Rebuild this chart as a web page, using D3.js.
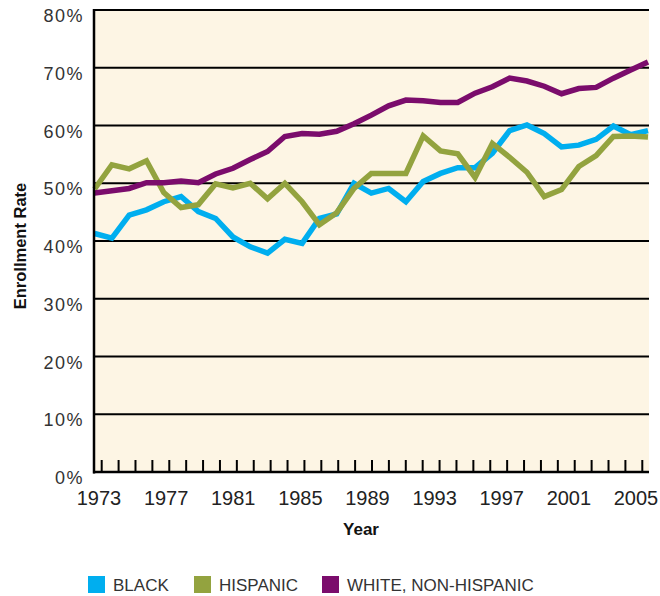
<!DOCTYPE html>
<html><head><meta charset="utf-8">
<script src="https://cdn.jsdelivr.net/npm/d3@7"></script>
<style>
body{margin:0;background:#fff;}
svg{display:block;}
</style></head>
<body>
<svg id="chart" width="660" height="596"></svg>
<script>
const years = d3.range(1973, 2006);
const black = [41.3,40.5,44.5,45.4,46.8,47.7,45.1,43.9,40.7,39.0,37.9,40.3,39.6,43.9,44.7,50.0,48.3,49.1,46.8,50.3,51.7,52.7,52.7,55.2,59.1,60.1,58.6,56.3,56.6,57.6,59.9,58.4,59.1];
const hispanic = [49.0,53.2,52.5,53.9,48.4,45.8,46.3,49.9,49.2,50.0,47.3,50.0,46.8,42.8,44.9,49.1,51.7,51.7,51.7,58.2,55.6,55.1,51.0,56.9,54.5,51.9,47.7,48.9,52.9,54.8,58.1,58.2,58.0];
const white = [48.3,48.7,49.1,50.1,50.1,50.4,50.1,51.6,52.6,54.1,55.5,58.1,58.6,58.5,59.0,60.3,61.8,63.4,64.4,64.3,64.0,64.0,65.6,66.7,68.2,67.7,66.8,65.5,66.4,66.6,68.2,69.6,71.0];
const yTicks = [0,10,20,30,40,50,60,70,80];
const xLabelYears = [1973,1977,1981,1985,1989,1993,1997,2001,2005];
const seriesNames = ["BLACK","HISPANIC","WHITE, NON-HISPANIC"];
const seriesColors = ["#00aeef","#93a33f","#7b0c6c"];

const svg = d3.select("#chart");
const L = 94, R = 649, T = 10, B = 472;

const x = d3.scaleLinear().domain([1973, 2005]).range([94.6, 648]);
const xTick = d3.scaleLinear().domain([1973, 2005]).range([101.7, 642.3]);
const xLab = d3.scaleLinear().domain([1973, 2005]).range([99, 636]);
const y = d3.scaleLinear().domain([0, 80]).range([B, T]);

// background
svg.append("rect").attr("x", L).attr("y", T).attr("width", R - L).attr("height", B - T).attr("fill", "#fdf5e4");

// gridlines
svg.append("g").selectAll("line").data(yTicks.filter(d => d > 0)).join("line")
  .attr("x1", L).attr("x2", R).attr("y1", d => y(d)).attr("y2", d => y(d))
  .attr("stroke", "#000").attr("stroke-width", 2);

// y labels
svg.append("g").selectAll("text").data(yTicks).join("text")
  .attr("x", 84).attr("y", d => y(d) + 12)
  .attr("text-anchor", "end")
  .attr("font-family", "'Liberation Sans', Arial, sans-serif")
  .attr("font-size", 18).attr("letter-spacing", "1.5px")
  .attr("fill", "#333")
  .text(d => d + "%");

// x ticks
svg.append("g").selectAll("line").data(years).join("line")
  .attr("x1", d => xTick(d)).attr("x2", d => xTick(d))
  .attr("y1", B).attr("y2", B - 12)
  .attr("stroke", "#000").attr("stroke-width", 2);

// x labels
svg.append("g").selectAll("text").data(xLabelYears).join("text")
  .attr("x", d => xLab(d)).attr("y", 505)
  .attr("text-anchor", "middle")
  .attr("font-family", "'Liberation Sans Narrow', 'Arial Narrow', sans-serif")
  .attr("font-stretch", "condensed")
  .attr("font-size", 20)
  .attr("fill", "#222")
  .text(d => d);

// lines
const line = d3.line().x((d, i) => x(years[i])).y(d => y(d));
[black, hispanic, white].forEach((s, k) => {
  svg.append("path").datum(s).attr("d", line)
    .attr("fill", "none").attr("stroke", seriesColors[k])
    .attr("stroke-width", 5.5).attr("stroke-linejoin", "miter");
});

// axes
svg.append("line").attr("x1", L).attr("x2", L).attr("y1", T - 1).attr("y2", B + 1.5).attr("stroke", "#000").attr("stroke-width", 2.5);
svg.append("line").attr("x1", L - 1).attr("x2", R).attr("y1", B).attr("y2", B).attr("stroke", "#000").attr("stroke-width", 2.5);

// axis titles
svg.append("text").attr("x", 361).attr("y", 535).attr("text-anchor", "middle")
  .attr("font-family", "'Liberation Sans Narrow', 'Liberation Sans', Arial, sans-serif")
  .attr("font-weight", "bold").attr("font-size", 17).attr("fill", "#111").text("Year");
svg.append("text").attr("transform", "translate(26,246) rotate(-90)").attr("text-anchor", "middle")
  .attr("font-family", "'Liberation Sans', Arial, sans-serif")
  .attr("font-weight", "bold").attr("font-size", 16.5).attr("fill", "#111").text("Enrollment Rate");

// legend
const legX = [88, 194, 322];
const leg = svg.append("g").selectAll("g").data(seriesNames).join("g")
  .attr("transform", (d, i) => `translate(${legX[i]},576)`);
leg.append("rect").attr("width", 17).attr("height", 17).attr("fill", (d, i) => seriesColors[i]);
leg.append("text").attr("x", 25).attr("y", 15)
  .attr("font-family", "'Liberation Sans', Arial, sans-serif")
  .attr("font-size", 17).attr("fill", "#333").text(d => d);
</script>
</body></html>
